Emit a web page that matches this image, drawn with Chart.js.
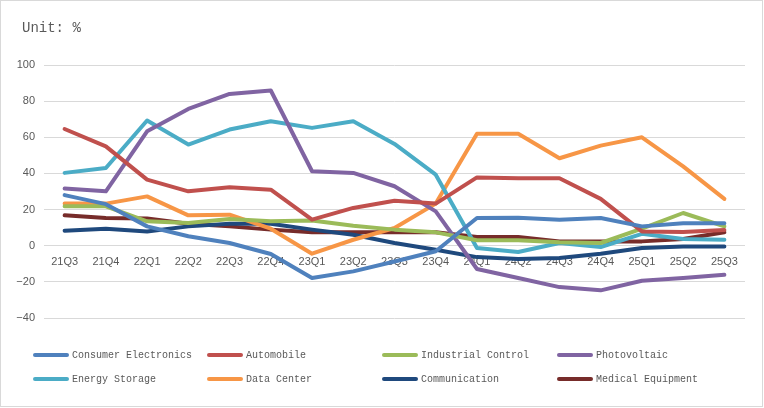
<!DOCTYPE html>
<html>
<head>
<meta charset="utf-8">
<script src="https://cdn.jsdelivr.net/npm/chart.js@4.4.1/dist/chart.umd.min.js"></script>
<style>
html,body{margin:0;padding:0;background:#fff;}
#wrap{position:relative;width:764px;height:408px;}
</style>
</head>
<body>
<div id="wrap"><canvas id="c" width="764" height="408"></canvas></div>
<script>
const categories = ["21Q3","21Q4","22Q1","22Q2","22Q3","22Q4","23Q1","23Q2","23Q3","23Q4","24Q1","24Q2","24Q3","24Q4","25Q1","25Q2","25Q3"];
const yTicks = [100, 80, 60, 40, 20, 0, -20, -40];
const seriesNames = ["Consumer Electronics","Automobile","Industrial Control","Photovoltaic","Energy Storage","Data Center","Communication","Medical Equipment"];
const consumerElectronics = [28, 23, 10.7, 5.2, 1.5, -4.6, -17.9, -14.2, -8.7, -3.1, 15.3, 15.5, 14.4, 15.3, 10.7, 12.4, 12.4];
const automobile = [64.6, 55, 36.6, 30.1, 32.3, 31, 14.4, 20.9, 24.9, 23.3, 37.8, 37.3, 37.3, 25.9, 7.9, 7.6, 8.7];
const industrialControl = [21.8, 21.8, 13.5, 12.6, 14.8, 13.5, 14, 11.1, 8.9, 7.4, 3, 3, 1.9, 1.5, 9.4, 18.1, 10.7];
const photovoltaic = [31.6, 30.1, 63.3, 75.7, 84, 85.9, 41.2, 40.3, 32.9, 19, -12.9, -17.9, -22.9, -24.7, -19.4, -17.9, -16.1];
const energyStorage = [40.3, 43, 69.3, 56, 64.3, 68.9, 65.2, 68.9, 56.3, 39.3, -1.3, -3.5, 1.5, -0.7, 6.6, 3.7, 3.3];
const dataCenter = [23.3, 23.3, 27.3, 16.8, 17.2, 9.4, -4.4, 3.3, 9.8, 23.3, 62, 62, 48.4, 55.4, 60, 43.9, 25.9];
const communication = [8.3, 9.4, 7.9, 10.7, 12.2, 12.2, 8.9, 6.1, 1.5, -2.2, -6.3, -7.4, -6.8, -4.4, -1.3, -0.4, -0.4];
const medicalEquipment = [16.8, 15.3, 15, 12.2, 10.7, 8.9, 7.4, 7.4, 7.4, 7.4, 4.8, 4.8, 2.4, 2.4, 2.4, 3.7, 7.4];
const seriesValues = [consumerElectronics, automobile, industrialControl, photovoltaic, energyStorage, dataCenter, communication, medicalEquipment];
const colors = ["#4f81bd","#c0504d","#9bbb59","#8064a2","#4bacc6","#f79646","#1f497d","#772c2a"];

const TEXT = "#595959";
const MONO = "'Liberation Mono','DejaVu Sans Mono',monospace";

const decorPlugin = {
  id: 'decor',
  afterDraw(chart) {
    const ctx = chart.ctx;
    ctx.save();
    ctx.strokeStyle = "#d9d9d9";
    ctx.lineWidth = 1;
    ctx.strokeRect(0.5, 0.5, 762, 406);
    ctx.fillStyle = TEXT;
    ctx.font = "14px " + MONO;
    ctx.textBaseline = "middle";
    ctx.textAlign = "left";
    ctx.fillText("Unit: %", 22, 28);
    const colX = [33, 207, 382, 557];
    const rowY = [355, 379];
    ctx.font = "10px " + MONO;
    chart.data.datasets.forEach((ds, i) => {
      const x = colX[i % 4];
      const y = rowY[Math.floor(i / 4)];
      ctx.strokeStyle = ds.borderColor;
      ctx.lineWidth = 4;
      ctx.lineCap = "round";
      ctx.beginPath();
      ctx.moveTo(x + 2, y);
      ctx.lineTo(x + 34, y);
      ctx.stroke();
      ctx.fillStyle = TEXT;
      ctx.fillText(ds.label, x + 39, y);
    });
    ctx.restore();
  }
};

new Chart(document.getElementById('c'), {
  type: 'line',
  data: {
    labels: categories,
    datasets: seriesNames.map((n, i) => ({
      label: n,
      data: seriesValues[i],
      borderColor: colors[i],
      backgroundColor: colors[i],
      borderWidth: 4,
      borderJoinStyle: 'round',
      borderCapStyle: 'round',
      pointRadius: 0,
      tension: 0,
      fill: false
    }))
  },
  options: {
    responsive: false,
    animation: false,
    devicePixelRatio: 1,
    layout: { padding: { left: 0, top: 65, right: 19, bottom: 90 } },
    plugins: { legend: { display: false }, title: { display: false }, tooltip: { enabled: false } },
    scales: {
      x: {
        type: 'category',
        offset: true,
        position: { y: 0 },
        grid: { display: false, drawTicks: false },
        border: { display: false },
        ticks: { color: TEXT, font: { family: "Arial, 'Liberation Sans', sans-serif", size: 11 }, padding: 10, maxRotation: 0, autoSkip: false }
      },
      y: {
        min: -40,
        max: 100,
        afterBuildTicks: (s) => { s.ticks = yTicks.map(v => ({ value: v })); },
        afterFit: (s) => { s.width = 44; },
        grid: { color: "#d9d9d9", lineWidth: 1, drawTicks: false },
        border: { display: false },
        ticks: { color: TEXT, font: { family: "Arial, 'Liberation Sans', sans-serif", size: 11 }, padding: 9, callback: (v) => (v < 0 ? "\u2212" + Math.abs(v) : String(v)) }
      }
    }
  },
  plugins: [decorPlugin]
});
</script>
</body>
</html>
